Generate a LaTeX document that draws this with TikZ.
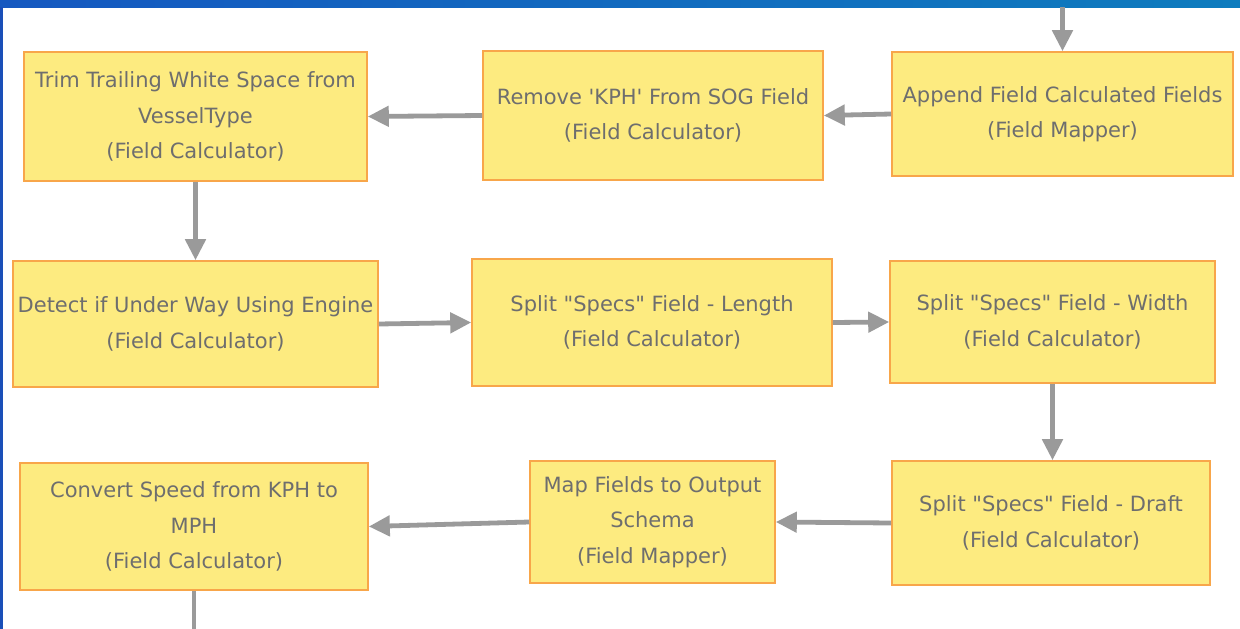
\documentclass[tikz,border=0pt]{standalone}
\usepackage{fontspec}
\setmainfont{DejaVu Sans}[Ligatures=TeXOff]
\usetikzlibrary{arrows.meta}
\definecolor{boxfill}{HTML}{FDEB80}
\definecolor{boxline}{HTML}{F8A64A}
\definecolor{boxtext}{HTML}{6E6E6E}
\definecolor{flowgray}{HTML}{9A9A9A}
\definecolor{barleft}{HTML}{1558C0}
\definecolor{barright}{HTML}{0E7CBE}
\definecolor{edgeblue}{HTML}{1A4FB8}

\begin{document}
\begin{tikzpicture}[x=1pt,y=-1pt,
  tool/.style={draw=boxline,line width=1.6pt,fill=boxfill,text=boxtext,
    align=center,inner sep=0pt,font=\fontsize{21}{35.5}\selectfont},
  flow/.style={draw=flowgray,line width=4.8pt,-{Triangle[length=21pt,width=20pt]}},
  flowline/.style={draw=flowgray,line width=4.8pt}]

\useasboundingbox (0,0) rectangle (1240,629);
\fill[white] (0,0) rectangle (1240,629);
\shade[left color=barleft,right color=barright] (0,0) rectangle (1240,7);
\fill[edgeblue] (0,7) rectangle (2.5,629);

\node[tool,minimum width=343pt,minimum height=129pt] (trim)   at (195.5,116.5) {Trim Trailing White Space from\\VesselType\\(Field Calculator)};
\node[tool,minimum width=340pt,minimum height=129pt] (remove) at (653,115.5)   {Remove 'KPH' From SOG Field\\(Field Calculator)};
\node[tool,minimum width=341pt,minimum height=124pt] (append) at (1062.5,114)  {Append Field Calculated Fields\\(Field Mapper)};

\node[tool,minimum width=365pt,minimum height=126pt] (detect) at (195.5,324)   {Detect if Under Way Using Engine\\(Field Calculator)};
\node[tool,minimum width=360pt,minimum height=127pt] (length) at (652,322.5)   {Split "Specs" Field - Length\\(Field Calculator)};
\node[tool,minimum width=325pt,minimum height=122pt] (width)  at (1052.5,322)  {Split "Specs" Field - Width\\(Field Calculator)};

\node[tool,minimum width=348pt,minimum height=127pt] (convert) at (194,526.5)  {Convert Speed from KPH to\\MPH\\(Field Calculator)};
\node[tool,minimum width=245pt,minimum height=122pt] (mapf)    at (652.5,522)  {Map Fields to Output\\Schema\\(Field Mapper)};
\node[tool,minimum width=318pt,minimum height=124pt] (draft)   at (1051,523)   {Split "Specs" Field - Draft\\(Field Calculator)};

\coordinate (feed) at (1062.5,7);
\coordinate (out)  at (194,629);

\draw[flow] (feed) -- (append.north);
\draw[flow] (append.west) -- (remove.east);
\draw[flow] (remove.west) -- (trim.east);
\draw[flow] (trim.south) -- (detect.north);
\draw[flow] (detect.east) -- (length.west);
\draw[flow] (length.east) -- (width.west);
\draw[flow] (width.south) -- (width.south |- draft.north);
\draw[flow] (draft.west) -- (mapf.east);
\draw[flow] (mapf.west) -- (convert.east);
\draw[flowline] (convert.south) -- (out);

\end{tikzpicture}
\end{document}
